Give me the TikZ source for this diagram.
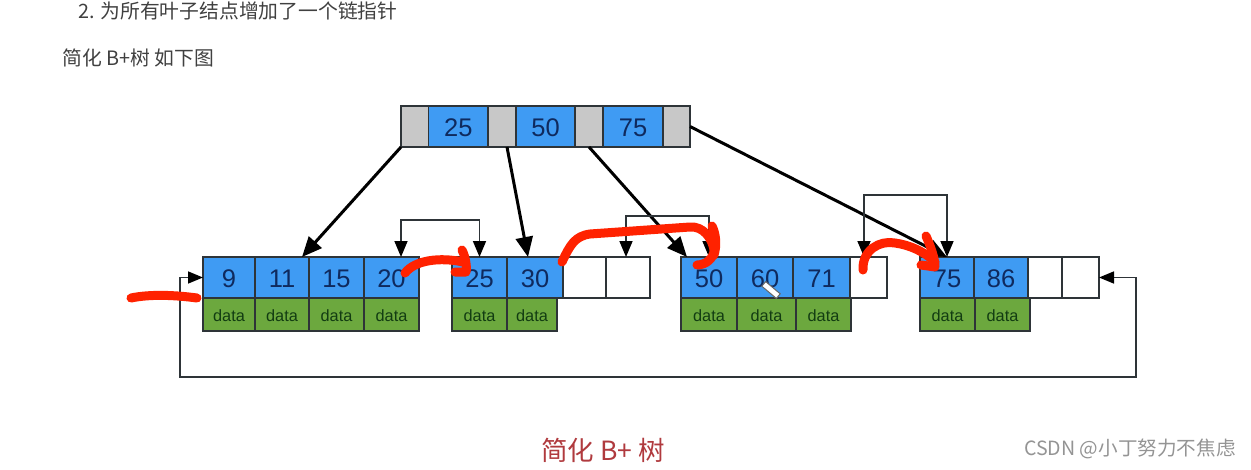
\documentclass[tikz,border=0pt]{standalone}
\usepackage{fontspec}
\setmainfont{Liberation Sans}
\newfontfamily\cjkfont{Noto Sans CJK SC}
\usetikzlibrary{arrows.meta, positioning}
\definecolor{keyblue}{HTML}{3F9BF3}
\definecolor{keytext}{HTML}{0F2A5E}
\definecolor{datagreen}{HTML}{6CA83E}
\definecolor{datatext}{HTML}{123C12}
\definecolor{ptrgray}{HTML}{C8C8C8}
\definecolor{edgegray}{HTML}{2E3438}
\definecolor{penred}{HTML}{FF2200}
\definecolor{capred}{HTML}{B03A3E}
\tikzset{
    base/.style = {rectangle, draw=edgegray, line width=1.6pt, minimum height=41pt, inner sep=0pt, outer sep=0pt, anchor=north west},
    keycell/.style = {base, fill=keyblue, text=keytext, text height=20pt, text depth=0pt, font=\fontsize{25.5}{25}\selectfont},
    ptrcell/.style = {base, fill=ptrgray},
    slotcell/.style = {base, fill=white},
    datacell/.style = {base, fill=datagreen, text=datatext, minimum height=33pt, text height=14.7pt, text depth=0pt, font=\fontsize{16.3}{16}\selectfont},
    arrow/.style = {line width=3pt, -{Triangle[length=20pt, width=17pt]}, draw=black},
    linkarrow/.style = {line width=1.6pt, {Triangle[length=16pt, width=13pt, color=black]}-{Triangle[length=16pt, width=13pt, color=black]}, draw=edgegray},
    ringarrow/.style = {line width=1.6pt, {Triangle[length=15pt, width=12pt, color=black]}-{Triangle[length=15pt, width=12pt, color=black]}, draw=edgegray},
    pen/.style = {line width=9pt, draw=penred, line cap=round, line join=round},
    note/.style = {text=black!75, anchor=west, inner sep=0pt, font=\cjkfont\fontsize{19.8}{20}\selectfont},
    caption/.style = {text=capred, anchor=west, inner sep=0pt, font=\cjkfont\fontsize{26.5}{26}\selectfont}
}
\begin{document}
\begin{tikzpicture}[x=1pt, y=-1pt, node distance=0pt]
        \useasboundingbox (0,0) rectangle (1251,469);

        % Text Above
        \node (point) [note] at (78,11) {2. 为所有叶子结点增加了一个链指针};
        \node (intro) [note] at (62,58) {简化 B+树 如下图};

        % Root Node
        \node (g1) [ptrcell, minimum width=27.5pt] at (401,106) {};
        \node (r25) [keycell, right=of g1.north east, anchor=north west, minimum width=59.5pt] {25};
        \node (g2) [ptrcell, right=of r25.north east, anchor=north west, minimum width=28pt] {};
        \node (r50) [keycell, right=of g2.north east, anchor=north west, minimum width=59pt] {50};
        \node (g3) [ptrcell, right=of r50.north east, anchor=north west, minimum width=28pt] {};
        \node (r75) [keycell, right=of g3.north east, anchor=north west, minimum width=60pt] {75};
        \node (g4) [ptrcell, right=of r75.north east, anchor=north west, minimum width=27pt] {};

        % First Leaf
        \node (c9) [keycell, minimum width=52pt] at (203,257) {9};
        \node (c11) [keycell, right=of c9.north east, anchor=north west, minimum width=54pt] {11};
        \node (c15) [keycell, right=of c11.north east, anchor=north west, minimum width=55pt] {15};
        \node (c20) [keycell, right=of c15.north east, anchor=north west, minimum width=55pt] {20};
        \node (d9) [datacell, below=of c9.south west, anchor=north west, minimum width=52pt] {data};
        \node (d11) [datacell, right=of d9.north east, anchor=north west, minimum width=54pt] {data};
        \node (d15) [datacell, right=of d11.north east, anchor=north west, minimum width=55pt] {data};
        \node (d20) [datacell, right=of d15.north east, anchor=north west, minimum width=55pt] {data};

        % Second Leaf
        \node (c25) [keycell, minimum width=55pt] at (452,257) {25};
        \node (c30) [keycell, right=of c25.north east, anchor=north west, minimum width=56pt] {30};
        \node (s1) [slotcell, right=of c30.north east, anchor=north west, minimum width=43pt] {};
        \node (s2) [slotcell, right=of s1.north east, anchor=north west, minimum width=44pt] {};
        \node (d25) [datacell, below=of c25.south west, anchor=north west, minimum width=55pt] {data};
        \node (d30) [datacell, right=of d25.north east, anchor=north west, minimum width=50pt] {data};

        % Third Leaf
        \node (c50) [keycell, minimum width=56pt] at (681,257) {50};
        \node (c60) [keycell, right=of c50.north east, anchor=north west, minimum width=56pt] {60};
        \node (c71) [keycell, right=of c60.north east, anchor=north west, minimum width=57pt] {71};
        \node (s3) [slotcell, right=of c71.north east, anchor=north west, minimum width=37pt] {};
        \node (d50) [datacell, below=of c50.south west, anchor=north west, minimum width=56pt] {data};
        \node (d60) [datacell, right=of d50.north east, anchor=north west, minimum width=59pt] {data};
        \node (d71) [datacell, right=of d60.north east, anchor=north west, minimum width=55pt] {data};

        % Fourth Leaf
        \node (c75) [keycell, minimum width=54pt] at (920,257) {75};
        \node (c86) [keycell, right=of c75.north east, anchor=north west, minimum width=54pt] {86};
        \node (s4) [slotcell, right=of c86.north east, anchor=north west, minimum width=34pt] {};
        \node (s5) [slotcell, right=of s4.north east, anchor=north west, minimum width=37pt] {};
        \node (d75) [datacell, below=of c75.south west, anchor=north west, minimum width=55pt] {data};
        \node (d86) [datacell, right=of d75.north east, anchor=north west, minimum width=55pt] {data};

        % Root Arrows
        \draw [arrow] (g1.south west) -- ([xshift=-7pt]c11.north east);
        \draw [arrow] ([xshift=5pt]g2.south) -- ([xshift=-7pt]c30.north);
        \draw [arrow] (g3.south) -- ([xshift=6pt]c50.north west);
        \draw [arrow] (g4.east) -- (c75.north);

        % Leaf Links
        \draw [linkarrow] ([xshift=9.5pt]c20.north) -- ++(0,-37) -| (c25.north);
        \draw [linkarrow] ([xshift=-2pt]s2.north) -- ++(0,-41) -| (c50.north);
        \draw [linkarrow] ([xshift=-4.5pt]s3.north) -- ++(0,-62) -| (c75.north);

        % Ring Around The Leaves
        \coordinate (ringl) at (180,377);
        \draw [ringarrow] (s5.east) -- ++(37,0) |- (ringl) |- (c9.west);

        % Caption
        \node (title) [caption] at (541,450) {简化 B+ 树};
        \node (site) [anchor=west, inner sep=0pt, text=black!42, font=\cjkfont\fontsize{19.6}{20}\selectfont] at (1024,449) {CSDN @小丁努力不焦虑};

        % Pen Strokes
        \draw [pen] (131,298) .. controls (150,294) and (175,295) .. (197,298);
        \draw [pen] (405,273) .. controls (415,260) and (440,257) .. (463,262);
        \draw [pen] (462,250) .. controls (466,258) and (467,268) .. (466,272) -- (455,272);
        \draw [pen] (562,262) .. controls (570,245) and (575,236) .. (590,234) -- (690,227) .. controls (703,226) and (712,238) .. (714,250) .. controls (714,258) and (706,265) .. (697,265);
        \draw [pen] (712,226) .. controls (716,234) and (717,245) .. (714,255);
        \draw [pen] (863,270) .. controls (862,250) and (880,240) .. (895,243) .. controls (910,245) and (925,252) .. (935,262);
        \draw [pen] (926,236) .. controls (930,245) and (935,258) .. (935,267) -- (921,265);

        % Cursor
        \node (cursor) [draw=black!60, fill=white, line width=1pt, minimum width=19pt, minimum height=6pt, inner sep=0pt, rotate=-40] at (771,290) {};
\end{tikzpicture}
\end{document}
